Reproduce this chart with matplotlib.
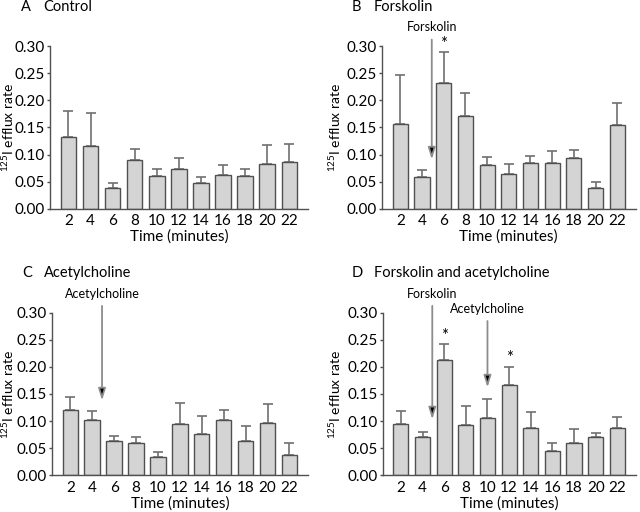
import matplotlib
matplotlib.use("Agg")
import matplotlib.pyplot as plt
import numpy as np

plt.rcParams['font.family'] = ['Lato', 'DejaVu Sans']
plt.rcParams['mathtext.fontset'] = 'custom'
plt.rcParams['mathtext.rm'] = 'Lato'

times = [2, 4, 6, 8, 10, 12, 14, 16, 18, 20, 22]

control_mean = [0.132, 0.116, 0.038, 0.091, 0.060, 0.074, 0.048, 0.063, 0.060, 0.083, 0.086]
control_err = [0.049, 0.061, 0.010, 0.020, 0.013, 0.020, 0.011, 0.017, 0.014, 0.034, 0.033]

forsk_mean = [0.157, 0.058, 0.232, 0.171, 0.080, 0.065, 0.084, 0.085, 0.093, 0.038, 0.155]
forsk_err = [0.089, 0.014, 0.057, 0.043, 0.015, 0.017, 0.014, 0.021, 0.016, 0.011, 0.041]

ach_mean = [0.120, 0.101, 0.063, 0.060, 0.033, 0.095, 0.076, 0.101, 0.063, 0.097, 0.037]
ach_err = [0.025, 0.018, 0.010, 0.011, 0.009, 0.039, 0.033, 0.019, 0.028, 0.035, 0.023]

both_mean = [0.094, 0.070, 0.213, 0.093, 0.106, 0.167, 0.087, 0.044, 0.060, 0.070, 0.087]
both_err = [0.024, 0.010, 0.029, 0.034, 0.034, 0.033, 0.029, 0.015, 0.026, 0.008, 0.020]

panel_letters = ['A', 'B', 'C', 'D']
panel_titles = ['Control', 'Forskolin', 'Acetylcholine', 'Forskolin and acetylcholine']

bar_fill = '#d4d4d4'
edge = '#505050'
err_col = '#707070'
arrow_col = '#8c8c8c'

W, H = 640, 512
fig = plt.figure(figsize=(6.4, 5.12), dpi=100)

# axes rectangles [left, bottom, width, height] in figure fraction
rects = [
    [0.078, 0.592, 0.403, 0.318],
    [0.597, 0.592, 0.396, 0.318],
    [0.081, 0.072, 0.400, 0.317],
    [0.598, 0.072, 0.395, 0.317],
]
# y label centre, in pixels from the left of the figure
ylabel_px = [8, 335, 8, 335]
data = [(control_mean, control_err), (forsk_mean, forsk_err),
        (ach_mean, ach_err), (both_mean, both_err)]

axes = []
for rect, (mean, err), lx in zip(rects, data, ylabel_px):
    ax = fig.add_axes(rect)
    x = np.arange(len(times))
    ax.bar(x, mean, width=0.7, color=bar_fill, edgecolor=edge, linewidth=1.0, zorder=2)
    ax.errorbar(x, mean, yerr=[np.zeros(len(err)), err], fmt='none',
                ecolor=err_col, elinewidth=1.2, capsize=3.5, capthick=1.2, zorder=1)
    ax.set_xlim(-0.84, 10.84)
    ax.set_ylim(0, 0.30)
    ax.set_yticks([0, 0.05, 0.10, 0.15, 0.20, 0.25, 0.30])
    ax.set_yticklabels(['0.00', '0.05', '0.10', '0.15', '0.20', '0.25', '0.30'])
    ax.set_xticks(x)
    ax.set_xticklabels([str(t) for t in times])
    for s in ['top', 'right']:
        ax.spines[s].set_visible(False)
    for s in ['left', 'bottom']:
        ax.spines[s].set_color(edge)
        ax.spines[s].set_linewidth(1.0)
    ax.tick_params(axis='y', direction='out', length=2.5, width=1, color=edge,
                   labelsize=11, pad=1)
    ax.tick_params(axis='x', length=0, labelsize=11, pad=4)
    ax.set_xlabel('Time (minutes)', fontsize=11, labelpad=1)
    ax.set_ylabel(r'$^{\mathregular{125}}$I efflux rate', fontsize=10, va='center')
    ax.yaxis.set_label_coords((lx - rect[0] * W) / (rect[2] * W), 0.5)
    axes.append(ax)

# panel titles
title_pos = [(0.033, 0.986), (0.550, 0.986), (0.034, 0.467), (0.550, 0.467)]
for (tx, ty), letter, title in zip(title_pos, panel_letters, panel_titles):
    fig.text(tx, ty, letter, fontsize=10.5, va='center', ha='left')
    fig.text(tx + 0.034, ty, title, fontsize=10.5, va='center', ha='left')


def drug_arrow(ax, xpos, y_top, y_tip, label, y_text):
    ax.annotate('', xy=(xpos, y_tip), xytext=(xpos, y_top),
                arrowprops=dict(arrowstyle='-|>,head_length=0.7,head_width=0.22',
                                ec=arrow_col, fc='black', lw=1.3),
                annotation_clip=False)
    ax.text(xpos, y_text, label, ha='center', va='center', fontsize=9, clip_on=False)


def star(ax, xpos, y):
    ax.text(xpos, y, '*', ha='center', va='center', fontsize=12, clip_on=False)


drug_arrow(axes[1], 1.45, 0.317, 0.086, 'Forskolin', 0.335)
star(axes[1], 2, 0.303)

drug_arrow(axes[2], 1.45, 0.318, 0.133, 'Acetylcholine', 0.335)

drug_arrow(axes[3], 1.45, 0.318, 0.098, 'Forskolin', 0.335)
drug_arrow(axes[3], 4.0, 0.290, 0.157, 'Acetylcholine', 0.307)
star(axes[3], 2, 0.258)
star(axes[3], 5, 0.216)

fig.savefig('out.png', dpi=100)
